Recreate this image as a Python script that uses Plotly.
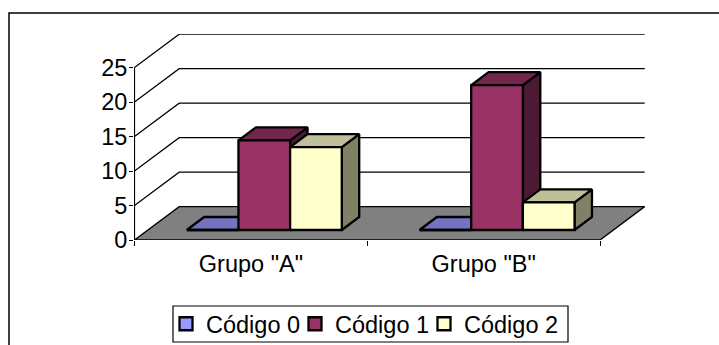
import plotly.graph_objects as go

categories = ['Grupo "A"', 'Grupo "B"']
series_names = ["Código 0", "Código 1", "Código 2"]
codigo_0 = [0, 0]
codigo_1 = [13, 21]
codigo_2 = [12, 4]
y_ticks = [0, 5, 10, 15, 20, 25]

front_colors = ["#9999FF", "#993366", "#FFFFCC"]
top_colors = ["#7373BF", "#73264D", "#BFBF99"]
side_colors = ["#4D4D80", "#4D1A33", "#808066"]
legend_widths = [84, 84, 100]

FONT = "Liberation Sans, Arial, sans-serif"
FONT_SIZE = 23.5

# Oblique projection: depth runs up and to the right of the front plane.
DEPTH_X = 0.192
DEPTH_Y = 4.83
BAR_W = 0.222
BAR_NEAR = 0.30
BAR_FAR = 0.69

# Plot area in pixels, with the scale of each axis.
L, R, T, B = 134, 74, 34, 105
WIDTH, HEIGHT = 719, 345
PX_PER_X = 232.75
PX_PER_Y = 6.9
PLOT_W = WIDTH - L - R
PLOT_H = HEIGHT - T - B
x_end = 2 + DEPTH_X


def proj(x, y, d):
    return x + d * DEPTH_X, y + d * DEPTH_Y


def paper_x(px):
    return (px - L) / PLOT_W


def paper_y(px):
    return 1 - (px - T) / PLOT_H


fig = go.Figure()


def poly(points, fill=None, width=1.6, close=True):
    xs = [p[0] for p in points]
    ys = [p[1] for p in points]
    if close:
        xs.append(xs[0])
        ys.append(ys[0])
    fig.add_trace(go.Scatter(
        x=xs, y=ys, mode="lines",
        line=dict(color="black", width=width),
        fill="toself" if fill else None,
        fillcolor=fill,
        showlegend=False, hoverinfo="skip", cliponaxis=False,
    ))


# Wall gridlines, then the floor and the value axis.
for v in y_ticks[1:]:
    poly([proj(0, v, 0), proj(0, v, 1), (x_end, v + DEPTH_Y)], width=1.2, close=False)
poly([proj(0, 0, 0), proj(2, 0, 0), proj(2, 0, 1), proj(0, 0, 1)], fill="#808080", width=1.4)
poly([proj(0, 0, 0), proj(0, y_ticks[-1], 0)], width=1.2, close=False)

# Boxes, drawn left to right so that nearer faces cover the ones behind.
values = [codigo_0, codigo_1, codigo_2]
for g in range(len(categories)):
    for s, vals in enumerate(values):
        v = vals[g]
        x0 = g + 0.5 - 1.5 * BAR_W + s * BAR_W
        x1 = x0 + BAR_W
        poly([proj(x1, 0, BAR_NEAR), proj(x1, 0, BAR_FAR), proj(x1, v, BAR_FAR), proj(x1, v, BAR_NEAR)],
             fill=side_colors[s], width=2.3)
        poly([proj(x0, v, BAR_NEAR), proj(x1, v, BAR_NEAR), proj(x1, v, BAR_FAR), proj(x0, v, BAR_FAR)],
             fill=top_colors[s], width=2.3)
        poly([proj(x0, 0, BAR_NEAR), proj(x1, 0, BAR_NEAR), proj(x1, v, BAR_NEAR), proj(x0, v, BAR_NEAR)],
             fill=front_colors[s], width=2.3)

# Legend entries.
for name, color, entry_w in zip(series_names, front_colors, legend_widths):
    fig.add_trace(go.Scatter(
        x=[None], y=[None], mode="markers", name=name, legendwidth=entry_w,
        marker=dict(symbol="square", size=13, color=color, line=dict(color="black", width=2.3)),
    ))

fig.update_layout(
    width=WIDTH, height=HEIGHT,
    margin=dict(l=L, r=R, t=T, b=B, pad=0, autoexpand=False),
    paper_bgcolor="white", plot_bgcolor="white",
    font=dict(family=FONT, size=FONT_SIZE, color="black"),
    hovermode=False,
    xaxis=dict(
        range=[-0.5 / PX_PER_X, (PLOT_W - 0.5) / PX_PER_X],
        tickmode="array", tickvals=[0.5, 1.5], ticktext=categories,
        ticks="", showgrid=False, zeroline=False, showline=False, fixedrange=True,
        automargin=False, ticklabelstandoff=7,
        minor=dict(tickmode="array", tickvals=[0, 1, 2], ticks="outside", ticklen=5,
                   tickwidth=1, tickcolor="black", showgrid=False),
    ),
    yaxis=dict(
        range=[0, PLOT_H / PX_PER_Y],
        tickmode="array", tickvals=y_ticks, ticks="outside", ticklen=4, tickwidth=1,
        tickcolor="black", showgrid=False, zeroline=False, showline=False, fixedrange=True,
        automargin=False, ticklabelstandoff=-3,
    ),
    # The legend box is a separate rectangle so that its height stays tight round the row.
    legend=dict(
        orientation="h", x=paper_x(166), xanchor="left",
        y=paper_y(302), yanchor="top",
        borderwidth=0, bgcolor="rgba(0,0,0,0)",
        itemclick=False, itemdoubleclick=False,
        font=dict(family=FONT, size=FONT_SIZE, color="black"),
    ),
    shapes=[
        dict(type="path", xref="paper", yref="paper",
             path=f"M {paper_x(9)} {paper_y(350)} L {paper_x(9)} {paper_y(13)} L {paper_x(725)} {paper_y(13)}",
             line=dict(color="black", width=1.5)),
        dict(type="rect", xref="paper", yref="paper",
             x0=paper_x(173), x1=paper_x(568), y0=paper_y(306), y1=paper_y(342),
             line=dict(color="black", width=1.2)),
    ],
)

fig.write_html("out.html", config=dict(displayModeBar=False))
